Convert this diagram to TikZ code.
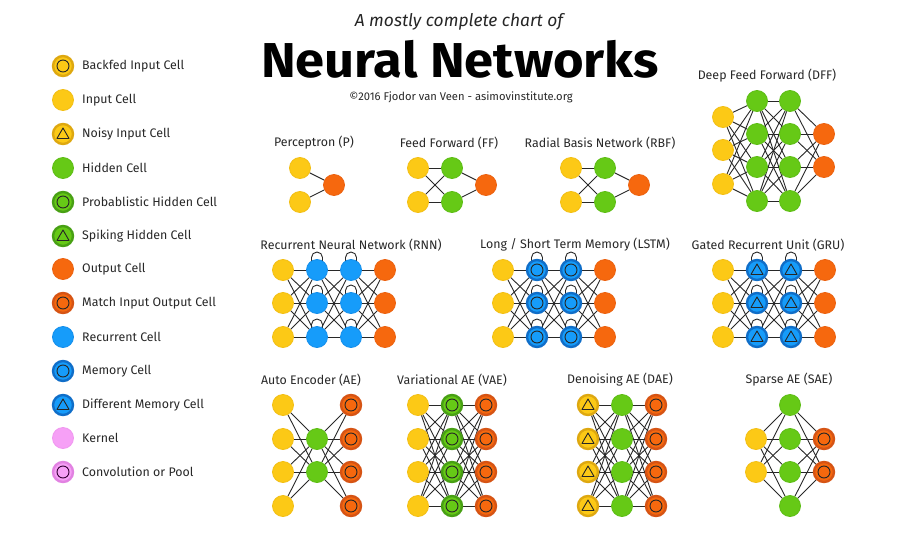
\documentclass[tikz,border=0pt]{standalone}
\usepackage{fontspec}
\setmainfont{Fira Sans}
\usetikzlibrary{calc}
\pgfdeclarelayer{back}
\pgfdeclarelayer{bg}
\pgfsetlayers{back,bg,main}
\definecolor{cy}{RGB}{252,201,22}
\definecolor{cyd}{RGB}{222,168,16}
\definecolor{cg}{RGB}{102,201,22}
\definecolor{cgd}{RGB}{72,160,20}
\definecolor{co}{RGB}{246,104,14}
\definecolor{cod}{RGB}{214,84,20}
\definecolor{cb}{RGB}{22,156,250}
\definecolor{cbd}{RGB}{16,110,200}
\definecolor{cp}{RGB}{246,160,246}
\definecolor{cpd}{RGB}{226,130,226}
\definecolor{txt}{RGB}{40,40,40}
\definecolor{edgec}{RGB}{40,40,40}
\begin{document}
\begin{tikzpicture}[x=1pt,y=-1pt,
  cell/.style={circle,minimum size=21pt,inner sep=0pt,line width=0.8pt},
  inp/.style={cell,fill=cy,draw=cy!70!cyd},
  hid/.style={cell,fill=cg,draw=cg!70!cgd},
  outc/.style={cell,fill=co,draw=co!70!cod},
  rec/.style={cell,fill=cb,draw=cb!70!cbd},
  kern/.style={cell,fill=cp,draw=cp!70!cpd},
  incirc/.style={path picture={\draw[line width=0.9pt,#1] (path picture bounding box.center) circle[radius=6pt];}},
  incirc/.default={black!85},
  intri/.style={path picture={\draw[line width=0.9pt,black!85,line join=round]
     ($(path picture bounding box.center)+(0pt,-1pt)+(90:7pt)$) --
     ($(path picture bounding box.center)+(0pt,-1pt)+(210:7pt)$) --
     ($(path picture bounding box.center)+(0pt,-1pt)+(330:7pt)$) -- cycle;}},
  special/.style={minimum size=20pt,line width=2.4pt},
  backfed/.style={inp,draw=cyd,special,incirc},
  noisy/.style={inp,draw=cyd,special,intri},
  prob/.style={hid,draw=cgd,special,incirc},
  spike/.style={hid,draw=cgd,special,intri},
  match/.style={outc,draw=cod,special,incirc},
  mem/.style={rec,draw=cbd,special,incirc},
  dmem/.style={rec,draw=cbd,special,intri},
  conv/.style={kern,draw=cpd,special,incirc={black!60!violet}},
  leg/.style={anchor=west,text=txt,font=\fontsize{12.4}{14}\selectfont,inner sep=0pt},
  ttl/.style={text=txt,font=\fontsize{12.4}{14}\selectfont,inner sep=0pt},
  edge/.style={draw=edgec,line width=0.9pt},
  loopc/.style={draw=edgec,line width=0.9pt}
]
\begin{pgfonlayer}{back}
\fill[white] (0,0) rectangle (908,533);
\end{pgfonlayer}

% ---------- header ----------
\node[text=black!85,font=\fontsize{17.4}{19}\selectfont\itshape,inner sep=0pt] (sub) at (459,22) {A mostly complete chart of};
\node[text=black,font=\fontsize{49}{52}\selectfont\bfseries,inner sep=0pt] (main) at (460,59) {\scalebox{1.07}[1]{Neural Networks}};
\node[text=txt,font=\fontsize{11.2}{13}\selectfont,inner sep=0pt] (copy) at (461,97) {©2016 Fjodor van Veen - asimovinstitute.org};

% ---------- legend ----------
\node[backfed] (l1) at (63,66) {};   \node[leg] (t1) at (82,66) {Backfed Input Cell};
\node[inp] (l2) at (63,100) {};      \node[leg] (t2) at (82,100) {Input Cell};
\node[noisy] (l3) at (63,134) {};    \node[leg] (t3) at (82,134) {Noisy Input Cell};
\node[hid] (l4) at (63,168) {};      \node[leg] (t4) at (82,168) {Hidden Cell};
\node[prob] (l5) at (63,202) {};     \node[leg] (t5) at (82,202) {Probablistic Hidden Cell};
\node[spike] (l6) at (63,236) {};    \node[leg] (t6) at (82,236) {Spiking Hidden Cell};
\node[outc] (l7) at (63,269) {};     \node[leg] (t7) at (82,269) {Output Cell};
\node[match] (l8) at (63,303) {};    \node[leg] (t8) at (82,303) {Match Input Output Cell};
\node[rec] (l9) at (63,337) {};      \node[leg] (t9) at (82,337) {Recurrent Cell};
\node[mem] (l10) at (63,371) {};     \node[leg] (t10) at (82,371) {Memory Cell};
\node[dmem] (l11) at (63,405) {};    \node[leg] (t11) at (82,405) {Different Memory Cell};
\node[kern] (l12) at (63,438) {};    \node[leg] (t12) at (82,438) {Kernel};
\node[conv] (l13) at (63,472) {};    \node[leg] (t13) at (82,472) {Convolution or Pool};

% ---------- Perceptron ----------
\node[ttl] (tp) at (314,143) {Perceptron (P)};
\node[inp] (pi1) at (300,168) {};
\node[inp] (pi2) at (300,202) {};
\node[outc] (po) at (334,185) {};
\begin{pgfonlayer}{bg}
\foreach \i in {1,2} \draw[edge] (pi\i) -- (po);
\end{pgfonlayer}

% ---------- Feed Forward ----------
\node[ttl] (tf) at (449,143) {Feed Forward (FF)};
\foreach \k/\y in {1/168,2/202} {
  \node[inp] (fi\k) at (418,\y) {};
  \node[hid] (fh\k) at (452,\y) {};
}
\node[outc] (fo) at (486,185) {};
\begin{pgfonlayer}{bg}
\foreach \i in {1,2} { \foreach \j in {1,2} \draw[edge] (fi\i) -- (fh\j); \draw[edge] (fh\i) -- (fo); }
\end{pgfonlayer}

% ---------- RBF ----------
\node[ttl] (tr) at (600,143) {Radial Basis Network (RBF)};
\foreach \k/\y in {1/168,2/202} {
  \node[inp] (ri\k) at (571,\y) {};
  \node[hid] (rh\k) at (605,\y) {};
}
\node[outc] (ro) at (639,185) {};
\begin{pgfonlayer}{bg}
\foreach \i in {1,2} { \foreach \j in {1,2} \draw[edge] (ri\i) -- (rh\j); \draw[edge] (rh\i) -- (ro); }
\end{pgfonlayer}

% ---------- DFF ----------
\node[ttl] (td) at (767,76) {Deep Feed Forward (DFF)};
\foreach \k/\y in {1/117,2/150,3/184} \node[inp] (di\k) at (723,\y) {};
\foreach \k/\y in {1/101,2/134,3/167,4/201} {
  \node[hid] (da\k) at (757,\y) {};
  \node[hid] (db\k) at (790,\y) {};
}
\foreach \k/\y in {1/134,2/167} \node[outc] (do\k) at (824,\y) {};
\begin{pgfonlayer}{bg}
\foreach \i in {1,2,3} \foreach \j in {1,...,4} \draw[edge] (di\i) -- (da\j);
\foreach \i in {1,...,4} \foreach \j in {1,...,4} \draw[edge] (da\i) -- (db\j);
\foreach \i in {1,...,4} \foreach \j in {1,2} \draw[edge] (db\i) -- (do\j);
\end{pgfonlayer}

% ---------- recurrent family ----------
\foreach \pre/\x/\sty/\tx/\tt in {rn/283/rec/351/{Recurrent Neural Network (RNN)},
                                  ls/503/mem/575/{Long / Short Term Memory (LSTM)},
                                  gr/723/dmem/768/{Gated Recurrent Unit (GRU)}} {
  \node[ttl] (\pre t) at (\tx,245) {\tt};
  \foreach \k/\y in {1/270,2/303,3/337} {
    \node[inp] (\pre i\k) at (\x,\y) {};
    \node[\sty] (\pre a\k) at (\x+34,\y) {};
    \node[\sty] (\pre b\k) at (\x+68,\y) {};
    \node[outc] (\pre o\k) at (\x+102,\y) {};
  }
  \begin{pgfonlayer}{bg}
  \foreach \i in {1,2,3} \foreach \j in {1,2,3} {
    \draw[edge] (\pre i\i) -- (\pre a\j);
    \draw[edge] (\pre a\i) -- (\pre b\j);
    \draw[edge] (\pre b\i) -- (\pre o\j);
  }
  \foreach \k in {1,2,3} \foreach \c in {a,b}
    \draw[loopc] ([xshift=-5.5pt,yshift=6pt]\pre\c\k.center) -- ++(0pt,6.5pt)
       arc[start angle=180,end angle=0,radius=5.5pt] -- ++(0pt,-6.5pt);
  \end{pgfonlayer}
}

% ---------- AE ----------
\node[ttl] (tae) at (311,380) {Auto Encoder (AE)};
\foreach \k/\y in {1/405,2/439,3/472,4/506} {
  \node[inp] (aei\k) at (283,\y) {};
  \node[match] (aeo\k) at (351,\y) {};
}
\node[hid] (aeh1) at (317,439) {};
\node[hid] (aeh2) at (317,472) {};
\begin{pgfonlayer}{bg}
\foreach \i in {1,...,4} \foreach \j in {1,2} { \draw[edge] (aei\i) -- (aeh\j); \draw[edge] (aeh\j) -- (aeo\i); }
\end{pgfonlayer}

% ---------- VAE / DAE ----------
\foreach \pre/\x/\si/\sh/\tx/\tt in {va/418/inp/prob/452/{Variational AE (VAE)},
                                     de/588/noisy/hid/620/{Denoising AE (DAE)}} {
  \node[ttl] (\pre t) at (\tx,380) {\tt};
  \foreach \k/\y in {1/405,2/439,3/472,4/506} {
    \node[\si] (\pre i\k) at (\x,\y) {};
    \node[\sh] (\pre h\k) at (\x+34,\y) {};
    \node[match] (\pre o\k) at (\x+68,\y) {};
  }
  \begin{pgfonlayer}{bg}
  \foreach \i in {1,...,4} \foreach \j in {1,...,4} {
    \draw[edge] (\pre i\i) -- (\pre h\j);
    \draw[edge] (\pre h\i) -- (\pre o\j);
  }
  \end{pgfonlayer}
}

% ---------- SAE ----------
\node[ttl] (tsa) at (789,380) {Sparse AE (SAE)};
\foreach \k/\y in {1/439,2/472} {
  \node[inp] (sai\k) at (756,\y) {};
  \node[match] (sao\k) at (824,\y) {};
}
\foreach \k/\y in {1/405,2/439,3/472,4/506} \node[hid] (sah\k) at (790,\y) {};
\begin{pgfonlayer}{bg}
\foreach \i in {1,2} \foreach \j in {1,...,4} { \draw[edge] (sai\i) -- (sah\j); \draw[edge] (sah\j) -- (sao\i); }
\end{pgfonlayer}
\end{tikzpicture}
\end{document}
